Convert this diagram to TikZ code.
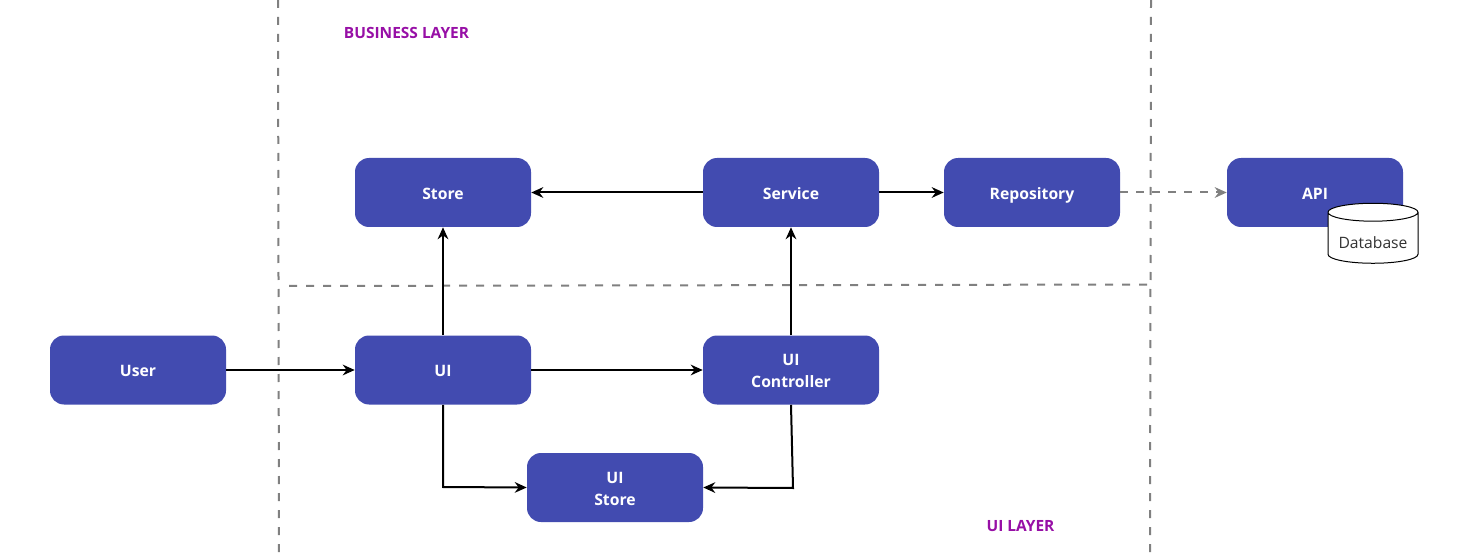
\documentclass[tikz,border=0pt]{standalone}
\usepackage{fontspec}
\setmainfont{Open Sans}
\usetikzlibrary{arrows.meta,shapes.geometric}
\definecolor{boxblue}{HTML}{424BB0}
\definecolor{layerpurple}{HTML}{970FA6}
\definecolor{dashgray}{HTML}{808080}
\tikzset{
  box/.style={fill=boxblue,rounded corners=10.5pt,minimum width=132pt,minimum height=51.75pt,
    text=white,font=\fontsize{11.8}{16.5}\selectfont\bfseries,align=center,inner sep=0pt,
    text height=10pt,text depth=0pt},
  twobox/.style={box,text height=26.5pt},
  layer/.style={text=layerpurple,font=\fontsize{11.6}{14}\selectfont\bfseries,inner sep=0pt},
  link/.style={line width=1.5pt,-{Stealth[length=9pt,width=8pt]}},
  border/.style={dashgray,line width=1.5pt,dash pattern=on 6pt off 6.75pt},
  dblink/.style={dashgray,line width=1.5pt,dash pattern=on 6pt off 6pt,-{Stealth[length=9pt,width=8pt]}},
  dbase/.style={draw,fill=white,line width=0.75pt,cylinder,shape border rotate=90,aspect=0.26,
    minimum width=67.5pt,minimum height=45pt,inner sep=0pt,text=black!80,
    text height=16pt,text depth=0pt,font=\fontsize{11.75}{14}\selectfont},
}
\begin{document}
\begin{tikzpicture}[x=0.75pt,y=-0.75pt]
      \useasboundingbox (0,0) rectangle (1457,556);
      \coordinate (lefttop) at (278,0);
      \coordinate (leftbot) at (279,556);
      \coordinate (righttop) at (1151,0);
      \coordinate (rightbot) at (1150,556);
      \coordinate (midleft) at (289,286);
      \coordinate (midright) at (1152,284.5);
      \coordinate (uibend) at (443,487);
      \coordinate (ctrlbend) at (793,488);
      \draw[border] (lefttop) to (leftbot);
      \draw[border] (righttop) to (rightbot);
      \draw[border] (midleft) to (midright);
      \node[box] (store) at (443,192.5) {Store};
      \node[box] (service) at (791,192.5) {Service};
      \node[box] (repository) at (1032,192.5) {Repository};
      \node[box] (api) at (1315,192.5) {API};
      \node[box] (user) at (138,370) {User};
      \node[box] (ui) at (443,370) {UI};
      \node[twobox] (controller) at (791,370) {UI\\Controller};
      \node[twobox] (uistore) at (615,487.5) {UI\\Store};
      \node[dbase] (database) at (1373,238) {Database};
      \node[layer] (business) at (406.5,33) {BUSINESS LAYER};
      \node[layer] (uilayer) at (1020.5,526) {UI LAYER};
      \begin{scope}[link]
        \draw (service) to (store);
        \draw (service) to (repository);
        \draw (ui) to (store);
        \draw (controller) to (service);
        \draw (user) to (ui);
        \draw (ui) to (controller);
        \draw (ui.south) -- (uibend) -- (uistore.west);
        \draw (controller.south) -- (ctrlbend) -- (uistore.east);
      \end{scope}
      \draw[dblink] (repository) to (api);
    \end{tikzpicture}
\end{document}
